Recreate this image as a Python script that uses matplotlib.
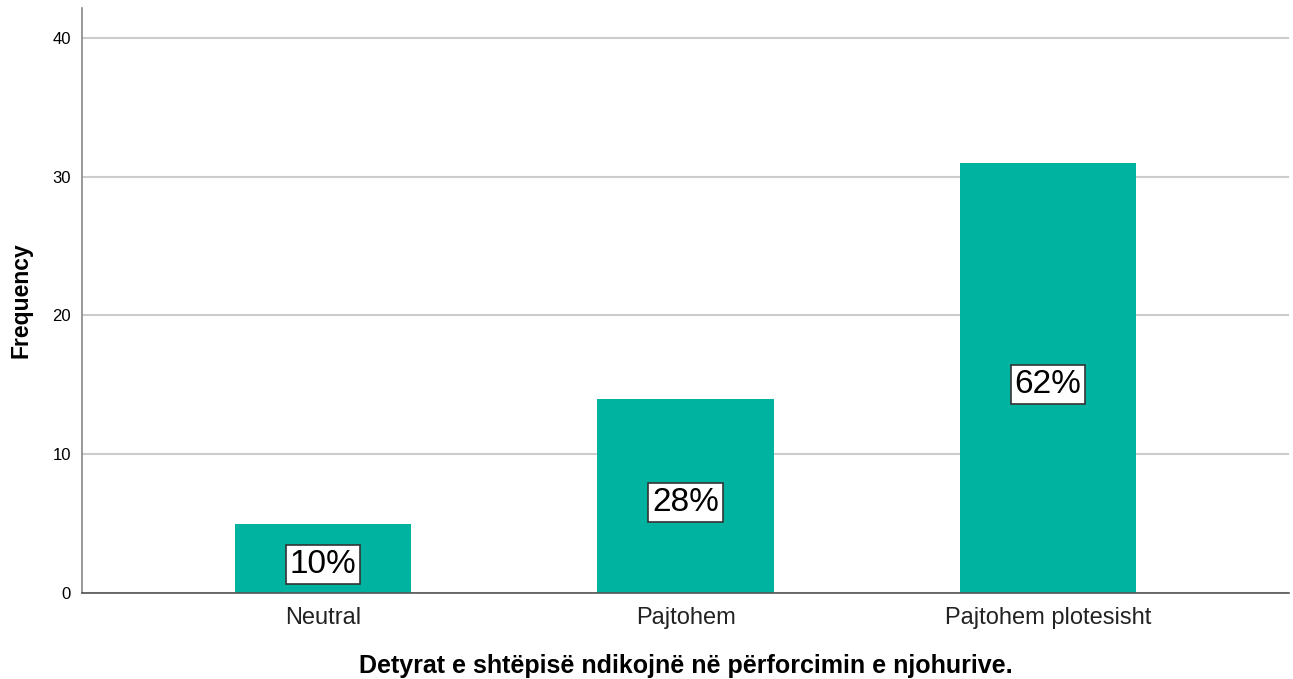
import matplotlib.pyplot as plt

plt.rcParams['font.family'] = ['Liberation Sans', 'DejaVu Sans']

categories = ["Neutral", "Pajtohem", "Pajtohem plotesisht"]
frequency = [5, 14, 31]
percent_labels = ["10%", "28%", "62%"]
y_ticks = [0, 10, 20, 30, 40]

fig = plt.figure(figsize=(12.93, 6.79), dpi=100)
ax = fig.add_axes([82 / 1293, 1 - 593 / 679, (1289 - 82) / 1293, (593 - 8) / 679])

x = list(range(len(categories)))
ax.bar(x, frequency, width=0.486, color='#00b3a0', zorder=2)

# percentage boxes in the middle of each bar
for xi, h, lab in zip(x, frequency, percent_labels):
    ax.text(xi, h / 2 - 0.45, lab, ha='center', va='center', fontsize=24, color='black',
            bbox=dict(boxstyle='square,pad=0.12', facecolor='white', edgecolor='#333333', linewidth=1.2),
            zorder=3)

ax.set_xlim(-0.665, 2.665)
ax.set_ylim(0, 42.16)
ax.set_yticks(y_ticks)
ax.yaxis.grid(True, color='#cccccc', linewidth=1.5, zorder=0)
ax.set_axisbelow(True)

ax.set_xticks(x)
ax.set_xticklabels(categories, fontsize=17, color='#222222')
ax.tick_params(axis='y', labelsize=12, length=0, pad=8)
ax.tick_params(axis='x', length=0, pad=10)

for s in ['top', 'right']:
    ax.spines[s].set_visible(False)
ax.spines['left'].set_color('#888888')
ax.spines['left'].set_linewidth(1.2)
ax.spines['bottom'].set_color('#555555')
ax.spines['bottom'].set_linewidth(1.2)

ax.set_xlabel("Detyrat e shtëpisë ndikojnë në përforcimin e njohurive.", fontsize=18,
              fontweight='bold', labelpad=18)
ax.set_ylabel("Frequency", fontsize=16.5, fontweight='bold', labelpad=14)

fig.savefig("out.png", dpi=100)
